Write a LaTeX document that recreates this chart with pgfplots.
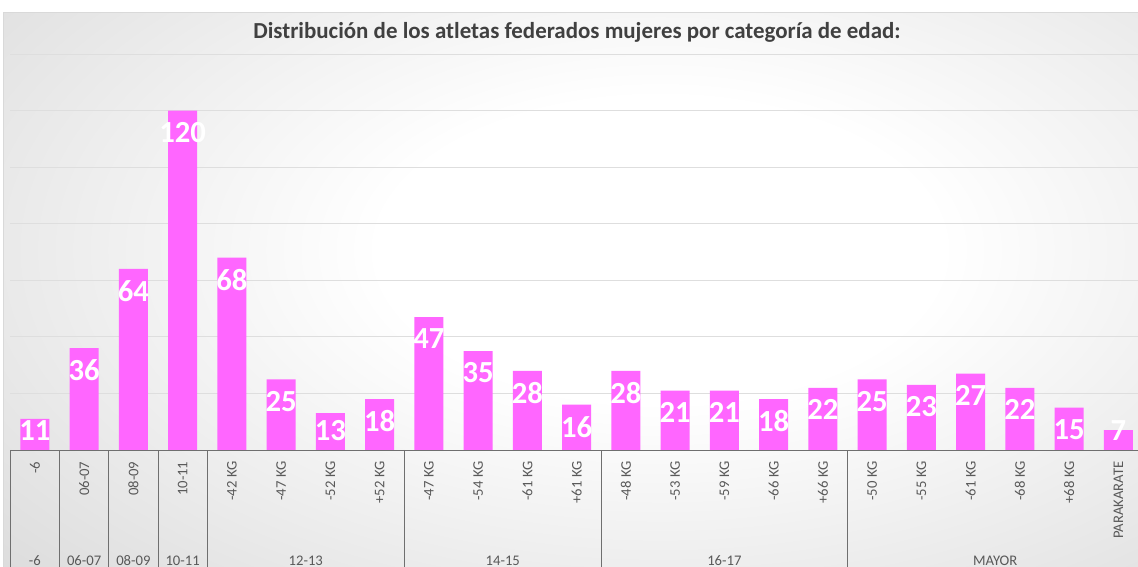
\documentclass[border=0pt]{standalone}
\usepackage{pgfplots}
\pgfplotsset{compat=1.18}
\usepackage{fontspec}
\setmainfont{Carlito}

\definecolor{barpink}{HTML}{FF66FF}
\definecolor{txtgray}{HTML}{595959}
\definecolor{titlegray}{HTML}{404040}
\definecolor{sepgray}{HTML}{6F6F6F}
\definecolor{gridgray}{HTML}{DEDEDE}
\definecolor{bgout}{RGB}{188,188,188}
\pgfdeclareradialshading{chartbg}{\pgfpoint{0bp}{0bp}}{color(0bp)=(white); color(10bp)=(white); color(52bp)=(bgout); color(100bp)=(bgout)}

\begin{document}
\begin{tikzpicture}[font=\fontsize{11}{13}\selectfont]
\useasboundingbox (0,0) rectangle (853.5pt,-425.25pt);
\clip (0,0) rectangle (853.5pt,-425.25pt);

% chart area, px coordinates from the top left
\begin{scope}[x=0.75pt,y=-0.75pt]
  \begin{scope}
    \clip (3,13) rectangle (1160,600);
    \shade[shading=chartbg] (-40,-130) rectangle (1360,630);
  \end{scope}
  \draw[gray!30, line width=0.75pt] (3,600) -- (3,13) -- (1160,13);
  \node[font=\bfseries\fontsize{17.2}{19}\selectfont, text=titlegray] at (577,32)
    {Distribución de los atletas federados mujeres por categoría de edad:};
\end{scope}

\begin{axis}[
  at={(7.725pt,-337.5pt)}, anchor=south west,
  scale only axis, width=849.5pt, height=297pt,
  xmin=-0.5, xmax=22.5, ymin=0, ymax=140,
  axis line style={draw=none},
  ytick={0,20,...,140}, yticklabels={},
  ymajorgrids, grid style={gridgray, line width=0.75pt},
  major tick length=0pt,
  xtick={0,...,22},
  xticklabels={-6,06-07,08-09,10-11,-42 KG,-47 KG,-52 KG,+52 KG,-47 KG,-54 KG,-61 KG,+61 KG,-48 KG,-53 KG,-59 KG,-66 KG,+66 KG,-50 KG,-55 KG,-61 KG,-68 KG,+68 KG,PARAKARATE},
  xticklabel style={rotate=90, anchor=east, inner sep=0pt, text=txtgray, font=\fontsize{11}{13}\selectfont},
  xticklabel shift=8.5pt,
  /pgf/number format/assume math mode=true,
  ybar, bar width=0.59,
  clip=false,
]
\addplot[fill=barpink, draw=none,
  nodes near coords,
  visualization depends on=rawy\as\rawy,
  every node near coord/.append style={anchor=north, inner sep=0pt, text=white,
    font=\bfseries\fontsize{23}{26}\selectfont,
    yshift={max(-8.5,22.5-2.1214*\rawy)*1pt}},
] coordinates {
  (0,11) (1,36) (2,64) (3,120) (4,68) (5,25) (6,13) (7,18)
  (8,47) (9,35) (10,28) (11,16) (12,28) (13,21) (14,21) (15,18)
  (16,22) (17,25) (18,23) (19,27) (20,22) (21,15) (22,7)
};
\draw[sepgray, line width=0.75pt] (axis cs:-0.5,0) -- (axis cs:22.5,0);
\pgfplotsinvokeforeach{-0.5,0.5,1.5,2.5,3.5,7.5,11.5,16.5,22.5}{
  \draw[sepgray, line width=0.75pt] (axis cs:#1,0) -- ++(0pt,-100pt);
}
\node[anchor=base, text=txtgray, yshift=-86.25pt] at (axis cs:0,0) {-6};
\node[anchor=base, text=txtgray, yshift=-86.25pt] at (axis cs:1,0) {06-07};
\node[anchor=base, text=txtgray, yshift=-86.25pt] at (axis cs:2,0) {08-09};
\node[anchor=base, text=txtgray, yshift=-86.25pt] at (axis cs:3,0) {10-11};
\node[anchor=base, text=txtgray, yshift=-86.25pt] at (axis cs:5.5,0) {12-13};
\node[anchor=base, text=txtgray, yshift=-86.25pt] at (axis cs:9.5,0) {14-15};
\node[anchor=base, text=txtgray, yshift=-86.25pt] at (axis cs:14,0) {16-17};
\node[anchor=base, text=txtgray, yshift=-86.25pt] at (axis cs:19.5,0) {MAYOR};
\end{axis}
\end{tikzpicture}
\end{document}
